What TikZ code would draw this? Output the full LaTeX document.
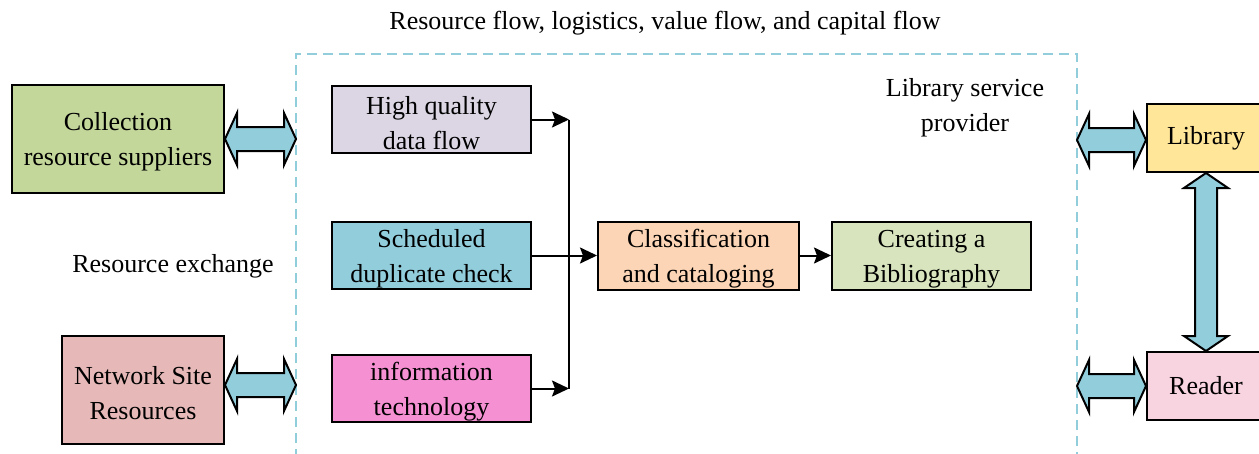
\documentclass[tikz,border=0pt]{standalone}
\usepackage{fontspec}
\setmainfont{Liberation Serif}
\usetikzlibrary{arrows.meta,calc}
\definecolor{cColl}{HTML}{C4D79B}
\definecolor{cNet}{HTML}{E6B9B8}
\definecolor{cHQ}{HTML}{DCD6E4}
\definecolor{cSched}{HTML}{92CDDC}
\definecolor{cIT}{HTML}{F590D2}
\definecolor{cCls}{HTML}{FBD5B5}
\definecolor{cCre}{HTML}{D7E4BD}
\definecolor{cLib}{HTML}{FFE699}
\definecolor{cRead}{HTML}{F8D3E0}
\definecolor{cFat}{HTML}{92CDDC}
\definecolor{cDash}{HTML}{92CDDC}
\tikzset{
  box/.style={draw=black, line width=2pt, inner sep=0pt, align=center,
    font=\fontsize{26}{35}\selectfont},
  lbl/.style={inner sep=0pt, align=center, font=\fontsize{26}{35}\selectfont},
  fat/.style={draw=black, line width=2pt, fill=cFat, line join=miter},
  flow/.style={draw=black, line width=2pt, -{Stealth[length=17pt,width=16pt,inset=3pt]}},
  plain/.style={draw=black, line width=2pt},
  dashbox/.style={draw=cDash, line width=2pt, dash pattern=on 10pt off 6pt}
}
\newcommand\hfat[2]{\path[fat] let \p1=(#1), \p2=(#2) in
  (\x1,\y1) -- ({\x1+12pt},{\y1+26pt}) -- ({\x1+12pt},{\y1+12pt}) -- ({\x2-12pt},{\y1+12pt}) -- ({\x2-12pt},{\y1+26pt}) -- (\x2,\y1)
  -- ({\x2-12pt},{\y1-26pt}) -- ({\x2-12pt},{\y1-12pt}) -- ({\x1+12pt},{\y1-12pt}) -- ({\x1+12pt},{\y1-26pt}) -- cycle;}
\newcommand\vfat[2]{\path[fat] let \p1=(#1), \p2=(#2) in
  (\x1,\y1) -- ({\x1+22pt},{\y1-15pt}) -- ({\x1+11pt},{\y1-15pt}) -- ({\x1+11pt},{\y2+15pt}) -- ({\x1+22pt},{\y2+15pt}) -- (\x1,\y2)
  -- ({\x1-22pt},{\y2+15pt}) -- ({\x1-11pt},{\y2+15pt}) -- ({\x1-11pt},{\y1-15pt}) -- ({\x1-22pt},{\y1-15pt}) -- cycle;}
\begin{document}
\begin{tikzpicture}[x=1pt,y=-1pt]
\useasboundingbox (0,0) rectangle (1259,453);
% dashed region
\draw[dashbox] (296,475) -- (296,54) -- (1077,54) -- (1077,475);
\coordinate (dl1) at (296,140);
\coordinate (dl2) at (296,385);
\coordinate (dr1) at (1077,140);
\coordinate (dr2) at (1077,386);
% labels
\node[lbl] (title) at (665,23) {Resource flow, logistics, value flow, and capital flow};
\node[lbl] (prov) at (965,108) {Library service\\provider};
\node[lbl] (exch) at (173,266) {Resource exchange};
% boxes
\node[box, fill=cColl, minimum width=212pt, minimum height=108pt] (coll) at (118,139) {\strut Collection\\resource suppliers};
\node[box, fill=cNet, minimum width=162pt, minimum height=108pt] (net) at (143,390) {\strut Network Site\\Resources};
\node[box, fill=cHQ, minimum width=199pt, minimum height=67pt] (hq) at (431.5,119.5) {\strut High quality\\data flow};
\node[box, fill=cSched, minimum width=199pt, minimum height=67pt] (sched) at (431.5,255.5) {\strut Scheduled\\duplicate check};
\node[box, fill=cIT, minimum width=199pt, minimum height=67pt] (it) at (431.5,388.5) {\strut information\\technology};
\node[box, fill=cCls, minimum width=201pt, minimum height=68pt] (cls) at (698.5,255.5) {\strut Classification\\and cataloging};
\node[box, fill=cCre, minimum width=199pt, minimum height=68pt] (cre) at (931.5,255.5) {\strut Creating a\\Bibliography};
\node[box, fill=cLib, minimum width=118pt, minimum height=68pt] (lib) at (1206,138) {Library};
\node[box, fill=cRead, minimum width=118pt, minimum height=68pt] (read) at (1206,386) {Reader};
% connectors
\coordinate (j1) at (569,119.5);
\coordinate (j3) at (569,388.5);
\draw[flow] (hq.east) -- (j1);
\draw[flow] (it.east) -- (j3);
\draw[plain] (j1) -- (j3);
\draw[flow] (sched.east) -- (cls.west);
\draw[flow] (cls.east) -- (cre.west);
% fat double arrows
\hfat{coll.east}{dl1}
\hfat{net.east |- dl2}{dl2}
\hfat{dr1}{lib.west}
\hfat{dr2}{read.west}
\vfat{lib.south}{read.north}
\end{tikzpicture}
\end{document}
